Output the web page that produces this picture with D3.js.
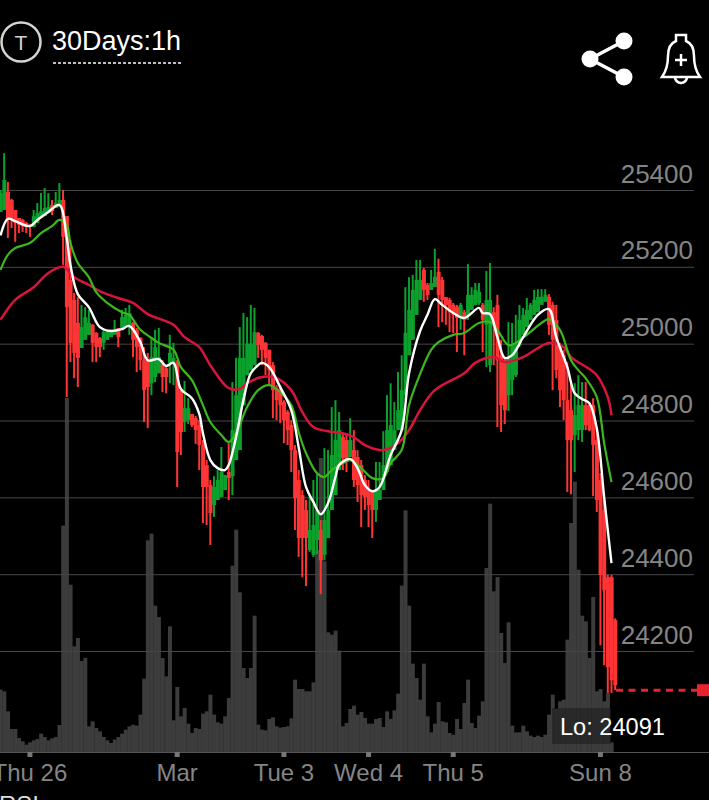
<!DOCTYPE html>
<html>
<head>
<meta charset="utf-8">
<script src="https://cdnjs.cloudflare.com/ajax/libs/d3/7.8.5/d3.min.js"></script>
<style>
  html, body { margin: 0; padding: 0; background: #000; overflow: hidden; }
  svg { display: block; }
  text { font-family: "Liberation Sans", sans-serif; }
</style>
</head>
<body>
<script>
// hourly bars, 168 of them, left to right
var high = [25400,25496,25421,25377,25348,25327,25325,25317,25312,25348,25366,25392,25405,25392,25374,25395,25418,25400,25332,25270,25132,25121,25101,25095,25088,25051,25030,25017,25036,25033,25036,25062,25041,25088,25093,25101,25056,25041,25017,24991,24976,25017,25036,25041,24957,24939,25023,25002,24957,24884,24903,24858,24817,24812,24801,24749,24697,24645,24655,24671,24731,24658,24741,24900,24963,25043,25080,25069,25101,25093,25030,25023,25004,24984,24952,24892,24892,24853,24827,24801,24736,24671,24619,24593,24608,24645,24660,24541,24728,24723,24835,24853,24822,24767,24762,24806,24775,24723,24697,24658,24645,24619,24692,24692,24772,24866,24897,24848,24926,24970,25147,25173,25179,25218,25218,25197,25158,25192,25247,25221,25174,25121,25119,25106,25101,25106,25088,25207,25147,25158,25158,25106,25189,25210,25095,25127,25010,24965,25056,25054,25075,25101,25093,25119,25106,25140,25142,25142,25142,25129,25109,25101,25002,24984,24952,24897,24897,24918,24900,24900,24845,24858,24780,24663,24593,24398,24398,24285];
var bodyOpen = [25343,25348,25395,25374,25348,25327,25322,25314,25309,25304,25314,25327,25332,25340,25361,25353,25356,25374,25332,25166,25114,25054,24989,25010,25023,25049,25028,25015,25002,25010,25017,25023,25041,25041,25043,25049,25054,25036,25015,24957,24957,24897,24913,24923,24947,24936,24950,24950,24952,24879,24796,24801,24817,24806,24788,24736,24684,24632,24580,24593,24601,24619,24666,24655,24697,24723,24840,24918,24931,24944,25028,25020,25002,24984,24944,24884,24879,24848,24822,24788,24723,24645,24606,24567,24463,24450,24489,24515,24450,24494,24567,24606,24671,24757,24749,24705,24723,24705,24684,24645,24619,24614,24567,24593,24619,24666,24684,24723,24775,24775,24866,24970,25010,25075,25114,25192,25153,25140,25148,25187,25166,25121,25114,25101,25096,25067,25082,25075,25088,25101,25106,25101,25049,24944,25082,25101,24970,24957,24866,24905,24918,24996,25023,25043,25062,25075,25082,25101,25109,25122,25101,25062,24996,24970,24853,24827,24762,24775,24775,24840,24840,24840,24749,24645,24567,24392,24392,24280];
var bodyClose = [25392,25426,25322,25322,25314,25309,25306,25304,25304,25332,25340,25345,25353,25356,25345,25366,25374,25278,25095,25002,24976,24963,25043,25069,25054,25002,24991,24991,25030,25033,25036,25038,25017,25069,25075,25080,25010,24991,24957,24879,24887,24965,24991,24965,24913,24913,24976,24963,24718,24770,24832,24832,24788,24775,24736,24627,24627,24559,24627,24645,24666,24658,24650,24775,24866,24963,24963,25000,25000,25030,24996,24984,24963,24931,24879,24853,24840,24801,24775,24723,24598,24494,24494,24494,24515,24528,24567,24436,24541,24567,24710,24749,24775,24702,24692,24749,24645,24632,24606,24601,24580,24567,24619,24619,24684,24775,24788,24775,24827,24879,25028,25088,25140,25166,25166,25140,25127,25158,25174,25127,25114,25101,25082,25075,25067,25101,25062,25127,25127,25140,25135,25062,25114,25114,25049,24957,24840,24827,24965,24996,24996,25062,25075,25088,25101,25114,25122,25122,25127,25049,25010,24931,24879,24853,24749,24749,24814,24840,24840,24788,24775,24736,24593,24398,24358,24158,24124,24111];
var low = [25343,25348,25275,25301,25265,25288,25291,25288,25278,25304,25314,25327,25332,25340,25335,25353,25356,25205,24861,24952,24910,24887,24989,25010,25023,24952,24952,24965,24984,25010,25017,25023,24991,25041,25043,25023,24965,24926,24931,24796,24780,24866,24900,24923,24874,24871,24897,24892,24627,24710,24770,24791,24783,24739,24671,24533,24528,24476,24549,24593,24601,24619,24593,24606,24697,24723,24840,24918,24931,24944,24963,24944,24918,24892,24806,24801,24793,24741,24736,24666,24515,24445,24392,24369,24458,24445,24452,24348,24436,24494,24567,24606,24671,24671,24666,24705,24627,24588,24523,24567,24523,24494,24536,24593,24619,24666,24684,24723,24775,24775,24853,24970,25010,25075,25114,25109,25114,25140,25148,25043,25056,25049,25030,25028,24978,25036,24970,25062,25088,25101,25101,24978,24939,24926,24944,24783,24770,24791,24825,24866,24913,24991,25023,25043,25062,25075,25082,25101,25109,25023,24879,24910,24835,24801,24614,24608,24666,24749,24744,24775,24772,24603,24562,24215,24163,24091,24091,24098];
var volume = [187,182,122,69,69,42,32,22,29,35,39,55,45,35,41,45,81,679,1062,502,317,342,273,282,77,92,72,62,45,35,27,37,45,55,67,77,82,79,112,220,635,655,439,405,282,227,377,95,195,107,132,85,57,72,69,115,122,172,112,89,85,107,162,559,667,479,252,222,252,409,82,67,65,99,104,77,73,75,77,101,217,189,189,182,182,209,606,882,572,359,352,364,304,77,87,129,139,112,120,102,85,85,99,102,75,122,99,125,175,499,725,439,265,222,157,265,107,59,85,150,92,89,57,52,99,69,147,217,87,72,109,152,552,745,482,525,357,267,389,79,59,59,79,62,49,45,49,45,52,112,172,129,152,157,337,687,811,547,409,392,282,465,182,189,152,177,29,0];

// moving averages, read at the bars listed next to them
var fastBars = [0,2,4,8,10,13,16,18,19,21,24,27,30,33,35,38,40,43,45,47,49,52,54,55,57,59,61,62,64,66,68,70,71,73,76,79,81,83,85,87,89,91,92,95,97,99,101,103,106,109,111,114,116,118,120,123,126,130,131,133,135,137,139,142,146,149,151,154,156,158,160,162,164,166];
var fastValues = [25282,25325,25319,25306,25322,25343,25361,25275,25205,25129,25095,25043,25033,25038,25046,25004,24957,24960,24942,24950,24882,24858,24817,24767,24697,24676,24671,24684,24757,24853,24923,24944,24950,24939,24887,24827,24731,24627,24588,24556,24585,24653,24684,24700,24676,24632,24616,24627,24710,24775,24923,25033,25075,25116,25101,25080,25067,25093,25080,25077,25017,24963,24970,25017,25075,25090,25017,24939,24871,24856,24845,24780,24601,24429];
var midBars = [0,2,4,8,11,14,16,18,19,21,24,26,29,33,35,38,41,43,47,49,52,55,57,60,62,64,67,70,73,76,79,81,83,86,88,90,93,95,98,101,104,106,109,111,114,117,119,123,126,130,133,135,138,140,143,147,149,152,155,157,159,162,164,166];
var midValues = [25192,25231,25249,25262,25288,25306,25322,25309,25262,25210,25173,25134,25106,25082,25075,25036,25015,25002,24984,24939,24905,24840,24796,24762,24744,24767,24835,24879,24892,24874,24840,24770,24715,24663,24653,24671,24689,24697,24676,24650,24650,24689,24723,24840,24921,24984,25004,25023,25028,25054,25056,25036,24996,25002,25023,25054,25064,25036,24957,24931,24910,24861,24741,24640];
var slowBars = [0,4,9,13,17,20,24,28,32,36,40,47,50,54,57,62,65,67,71,75,79,82,85,89,93,96,99,104,108,111,114,118,126,129,134,137,142,149,153,155,160,162,165,166];
var slowValues = [25062,25114,25147,25184,25200,25173,25153,25132,25119,25106,25077,25049,25017,24991,24944,24884,24882,24897,24913,24910,24879,24822,24783,24772,24767,24757,24736,24723,24741,24775,24827,24879,24923,24950,24965,24952,24965,25002,24991,24965,24934,24918,24861,24814];

var priceTicks = [25400,25200,25000,24800,24600,24400,24200];
var timeTickBars = [8,48,77,100,123,163];
var timeTickLabels = ["Thu 26","Mar","Tue 3","Wed 4","Thu 5","Sun 8"];
var lowLevel = 24098;
var lowLabel = "Lo: 24091";

var width = 709, height = 800;

var svg = d3.select("body").append("svg")
    .attr("width", width)
    .attr("height", height);

svg.append("rect").attr("width", width).attr("height", height).attr("fill", "#000");

var bars = d3.range(high.length);
var x = d3.scaleBand().domain(bars).range([-1.34, 617]);
var y = d3.scaleLinear().domain([24200, 25400]).range([651, 190]);
var v = d3.scaleLinear().domain([0, 1062]).range([752, 398]);
function cx(i) { return x(i) + x.bandwidth() / 2; }

// volume, bars touch each other
svg.append("g").selectAll("rect")
    .data(bars)
  .enter().append("rect")
    .attr("x", function(i) { return x(i); })
    .attr("width", x.bandwidth() + 0.3)
    .attr("y", function(i) { return v(volume[i]); })
    .attr("height", function(i) { return 752 - v(volume[i]); })
    .attr("fill", "#3c3c3c");

// gridlines and price labels
var yAxis = svg.append("g")
    .attr("transform", "translate(694,0)")
    .call(d3.axisLeft(y).tickValues(priceTicks).tickSize(694).tickFormat(d3.format("d")));
yAxis.select(".domain").remove();
yAxis.selectAll("line").attr("stroke", "#464646");
yAxis.selectAll("text")
    .attr("x", -1)
    .attr("dy", -8)
    .attr("text-anchor", "end")
    .attr("fill", "#858585")
    .style("font-size", "26px")
    .style("font-family", "Liberation Sans");

// wicks then bodies
var candles = svg.append("g");
function barColor(i) { return bodyClose[i] < bodyOpen[i] ? "#ff3535" : "#0ca02c"; }
candles.selectAll(".wick")
    .data(bars)
  .enter().append("rect")
    .attr("class", "wick")
    .attr("x", function(i) { return cx(i) - 1; })
    .attr("width", 2)
    .attr("y", function(i) { return y(high[i]); })
    .attr("height", function(i) { return y(low[i]) - y(high[i]); })
    .attr("fill", barColor);
candles.selectAll(".body")
    .data(bars)
  .enter().append("rect")
    .attr("class", "body")
    .attr("x", function(i) { return x(i); })
    .attr("width", x.bandwidth() + 0.3)
    .attr("y", function(i) { return y(Math.max(bodyOpen[i], bodyClose[i])); })
    .attr("height", function(i) { return Math.abs(y(bodyOpen[i]) - y(bodyClose[i])); })
    .attr("fill", barColor);

// moving average lines
function maLine(idx, vals, color, w) {
  var line = d3.line()
      .x(function(d, k) { return cx(idx[k]); })
      .y(function(d) { return y(d); })
      .curve(d3.curveCatmullRom.alpha(0.5));
  svg.append("path")
      .attr("d", line(vals))
      .attr("fill", "none")
      .attr("stroke", color)
      .attr("stroke-width", w);
}
maLine(slowBars, slowValues, "#d8143c", 2.5);
maLine(midBars, midValues, "#3db81c", 2.2);
maLine(fastBars, fastValues, "#ffffff", 2.4);

// low marker
svg.append("line")
    .attr("x1", 616).attr("x2", 697)
    .attr("y1", y(lowLevel)).attr("y2", y(lowLevel))
    .attr("stroke", "#e8222e")
    .attr("stroke-width", 3)
    .attr("stroke-dasharray", "7 5.5");
svg.append("rect")
    .attr("x", 697).attr("y", y(lowLevel) - 6)
    .attr("width", 12).attr("height", 12)
    .attr("fill", "#e8222e");

svg.append("rect")
    .attr("x", 552).attr("y", 708)
    .attr("width", 59).attr("height", 36)
    .attr("fill", "#1c1c1c")
    .attr("fill-opacity", 0.6);
svg.append("text")
    .attr("x", 560).attr("y", 735)
    .attr("fill", "#fff")
    .style("font-size", "23.6px")
    .text(lowLabel);

// time axis
svg.append("line")
    .attr("x1", 0).attr("x2", width)
    .attr("y1", 752.5).attr("y2", 752.5)
    .attr("stroke", "#555");
var xAxis = svg.append("g")
    .attr("transform", "translate(0,752)")
    .call(d3.axisBottom(x).tickValues(timeTickBars).tickSize(5).tickPadding(7)
      .tickFormat(function(d, k) { return timeTickLabels[k]; }));
xAxis.select(".domain").remove();
xAxis.selectAll("line").attr("stroke", "#777").attr("stroke-width", 5);
xAxis.selectAll("text")
    .attr("fill", "#858585")
    .style("font-size", "24px")
    .style("font-family", "Liberation Sans");

svg.append("text")
    .attr("x", -1).attr("y", 813)
    .attr("fill", "#ddd")
    .style("font-size", "24px")
    .text("RSI");

// header
svg.append("circle")
    .attr("cx", 21).attr("cy", 42).attr("r", 19.5)
    .attr("fill", "none").attr("stroke", "#d4d4d4").attr("stroke-width", 2.5);
svg.append("text")
    .attr("x", 21).attr("y", 50)
    .attr("text-anchor", "middle")
    .attr("fill", "#d4d4d4")
    .style("font-size", "21px")
    .text("T");
svg.append("text")
    .attr("x", 52).attr("y", 50)
    .attr("fill", "#fff")
    .style("font-size", "27px")
    .text("30Days:1h");
svg.append("line")
    .attr("x1", 53).attr("x2", 181)
    .attr("y1", 63).attr("y2", 63)
    .attr("stroke", "#fff")
    .attr("stroke-width", 1.5)
    .attr("stroke-dasharray", "3 2");

// share icon
var share = svg.append("g");
share.append("path")
    .attr("d", "M624 41L590 59L624 77")
    .attr("fill", "none").attr("stroke", "#fff").attr("stroke-width", 3.5);
[[590, 59], [624, 41], [624, 77]].forEach(function(c) {
  share.append("circle").attr("cx", c[0]).attr("cy", c[1]).attr("r", 8.5).attr("fill", "#fff");
});

// bell icon
var bell = svg.append("g")
    .attr("fill", "none").attr("stroke", "#fff").attr("stroke-width", 2.5);
bell.append("path")
    .attr("d", "M662 77C667 70 668 64 668 56C668 47 671 43 676 41L676 35L686 35L686 41C691 43 694 47 694 56C694 64 695 70 700 77Z");
bell.append("path").attr("d", "M675 77A6 6 0 0 0 687 77");
bell.append("path").attr("d", "M681 54L681 66M675 60L687 60");
</script>
</body>
</html>
